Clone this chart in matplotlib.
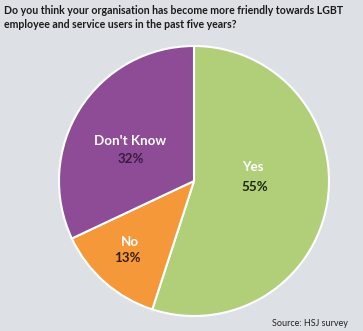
import matplotlib
matplotlib.use("Agg")
import matplotlib.pyplot as plt
from matplotlib import font_manager as fm

categories = ["Yes", "No", "Don't Know"]
values = [55, 13, 32]
pct_labels = ["55%", "13%", "32%"]
colors = ["#b0cf78", "#f4983a", "#8e4b96"]

BG = "#dde1e5"
W, H = 363, 331
fig = plt.figure(figsize=(W / 100, H / 100), dpi=100, facecolor=BG)

installed = {f.name for f in fm.fontManager.ttflist}
if "Liberation Sans Narrow" in installed:
    FONT, title_size, label_size, src_size = "Liberation Sans Narrow", 10, 11.5, 7.5
else:
    FONT, title_size, label_size, src_size = "Lato", 7.6, 9.6, 6.5

# pie box in pixels: centre (194, 181), radius 135
cx, cy, r = 194, 181, 135
ax = fig.add_axes([(cx - r) / W, (H - cy - r) / H, 2 * r / W, 2 * r / H])

ax.pie(values, colors=colors, startangle=90, counterclock=False, radius=1,
       wedgeprops=dict(edgecolor="white", linewidth=1.5))
ax.set_xlim(-1, 1)
ax.set_ylim(-1, 1)
ax.set_aspect("auto")
ax.axis("off")

# label anchors (name above, percentage below)
name_pos = [(0.437, 0.104), (-0.474, -0.452), (-0.474, 0.296)]
pct_pos = [(0.45, -0.044), (-0.496, -0.570), (-0.467, 0.163)]
pct_colors = ["#1c2412", "#3a1e05", "#3a1a42"]
for name, npos, p, ppos, pc in zip(categories, name_pos, pct_labels, pct_pos, pct_colors):
    ax.text(*npos, name, ha="center", va="center", color="white",
            fontsize=label_size, fontweight="bold", family=FONT)
    ax.text(*ppos, p, ha="center", va="center", color=pc,
            fontsize=label_size, fontweight="bold", family=FONT)

fig.text(4 / W, 1 - 10 / H,
         "Do you think your organisation has become more friendly towards LGBT",
         ha="left", va="center", fontsize=title_size, fontweight="bold", family=FONT,
         color="#1a1a1a")
fig.text(4 / W, 1 - 25 / H,
         "employee and service users in the past five years?",
         ha="left", va="center", fontsize=title_size, fontweight="bold", family=FONT,
         color="#1a1a1a")
fig.text(348 / W, 1 - 323 / H, "Source: HSJ survey", ha="right", va="center",
         fontsize=src_size, family=FONT, color="#222222")

fig.savefig("out.png", dpi=100, facecolor=BG)
